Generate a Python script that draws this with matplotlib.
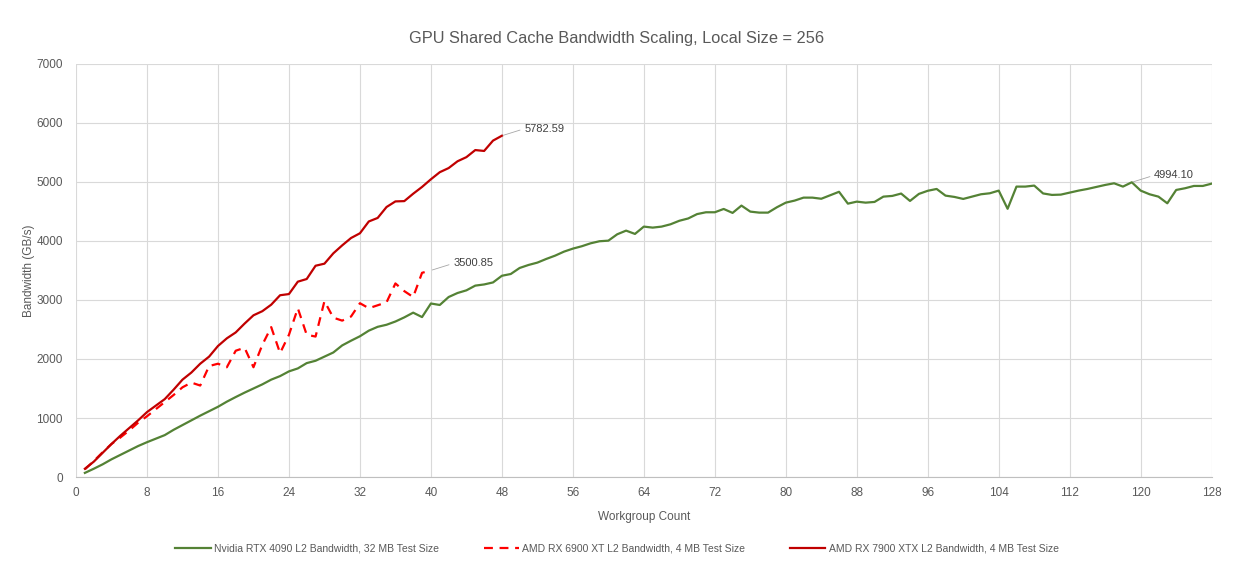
import matplotlib
matplotlib.use("Agg")
import matplotlib.pyplot as plt

plt.rcParams['font.family'] = ['Liberation Sans', 'DejaVu Sans']

# workgroup counts
wg_4090 = list(range(1, 129))
wg_6900 = list(range(1, 41))
wg_7900 = list(range(1, 49))

# bandwidth in GB/s
bw_4090 = [70, 140, 215, 300, 375, 450, 525, 590, 650, 710,
           800, 880, 960, 1040, 1115, 1190, 1277, 1355, 1430, 1500,
           1570, 1650, 1710, 1790, 1840, 1930, 1970, 2040, 2110, 2230,
           2310, 2385, 2480, 2545, 2580, 2635, 2705, 2785, 2710, 2940,
           2915, 3050, 3118, 3163, 3243, 3263, 3297, 3410, 3440, 3542,
           3593, 3633, 3695, 3751, 3819, 3870, 3910, 3960, 3995, 4005,
           4113, 4175, 4119, 4243, 4226, 4243, 4282, 4342, 4381, 4455,
           4486, 4486, 4542, 4475, 4599, 4497, 4480, 4480, 4571, 4649,
           4684, 4734, 4734, 4715, 4774, 4833, 4632, 4666, 4649, 4661,
           4751, 4763, 4803, 4678, 4797, 4850, 4881, 4768, 4746, 4712,
           4751, 4791, 4808, 4853, 4545, 4921, 4921, 4938, 4805, 4780,
           4785, 4819, 4853, 4881, 4915, 4949, 4977, 4921, 4994.10, 4853,
           4791, 4751, 4638, 4864, 4893, 4932, 4932, 4971]
bw_6900 = [130, 270, 420, 560, 670, 790, 920, 1030, 1150, 1270,
           1390, 1520, 1600, 1550, 1880, 1920, 1860, 2140, 2190, 1860,
           2240, 2540, 2100, 2410, 2860, 2410, 2380, 2980, 2700, 2650,
           2720, 2945, 2860, 2910, 2960, 3280, 3150, 3050, 3460, 3500.85]
bw_7900 = [140, 260, 410, 560, 700, 830, 960, 1100, 1210, 1320,
           1480, 1650, 1770, 1920, 2040, 2220, 2350, 2450, 2600, 2740,
           2810, 2920, 3080, 3100, 3310, 3355, 3580, 3615, 3790, 3925,
           4050, 4130, 4330, 4390, 4575, 4670, 4675, 4800, 4915, 5045,
           5165, 5235, 5350, 5420, 5540, 5525, 5700, 5782.59]

labels = ['Nvidia RTX 4090 L2 Bandwidth, 32 MB Test Size',
          'AMD RX 6900 XT L2 Bandwidth, 4 MB Test Size',
          'AMD RX 7900 XTX L2 Bandwidth, 4 MB Test Size']

fig = plt.figure(figsize=(12.34, 5.61), dpi=100)
ax = fig.add_axes([0.0616, 0.1497, 0.9203, 0.7364])

ax.plot(wg_4090, bw_4090, color='#548235', lw=1.6, label=labels[0])
ax.plot(wg_6900, bw_6900, color='#ff0000', lw=1.6, dashes=(4, 3), label=labels[1])
ax.plot(wg_7900, bw_7900, color='#c00000', lw=1.6, label=labels[2])

ax.set_xlim(0, 128)
ax.set_ylim(0, 7000)
ax.set_xticks(range(0, 129, 8))
ax.set_yticks(range(0, 7001, 1000))
ax.grid(True, color='#d9d9d9', lw=0.8)
ax.set_axisbelow(True)
ax.tick_params(length=0, labelsize=8.5, labelcolor='#595959')
ax.tick_params(axis='x', pad=7)
ax.tick_params(axis='y', pad=9.5)
for s in ['top', 'right', 'left']:
    ax.spines[s].set_visible(False)
ax.spines['bottom'].set_color('#bfbfbf')

ax.set_xlabel('Workgroup Count', fontsize=8.5, color='#595959', labelpad=9)
ax.set_ylabel('Bandwidth (GB/s)', fontsize=8.5, color='#595959', labelpad=1)
fig.suptitle('GPU Shared Cache Bandwidth Scaling, Local Size = 256',
             fontsize=11.8, color='#595959', y=0.932, va='center')

# data labels on the last / peak points
for x, y in [(wg_7900[-1], bw_7900[-1]), (wg_6900[-1], bw_6900[-1]),
             (119, bw_4090[118])]:
    ax.annotate(f'{y:.2f}', xy=(x, y), xytext=(16, 5), textcoords='offset points',
                fontsize=8, color='#404040', ha='left', va='center',
                arrowprops=dict(arrowstyle='-', color='#a6a6a6', lw=0.6,
                                shrinkA=1, shrinkB=1, relpos=(0, 0.5)))

fig.legend(loc='lower center', bbox_to_anchor=(0.5, -0.004), ncol=3, frameon=False,
           fontsize=7.5, handlelength=3.4, handletextpad=0.3, columnspacing=4.3,
           labelcolor='#595959')

fig.savefig('out.png', dpi=100, facecolor='white')
